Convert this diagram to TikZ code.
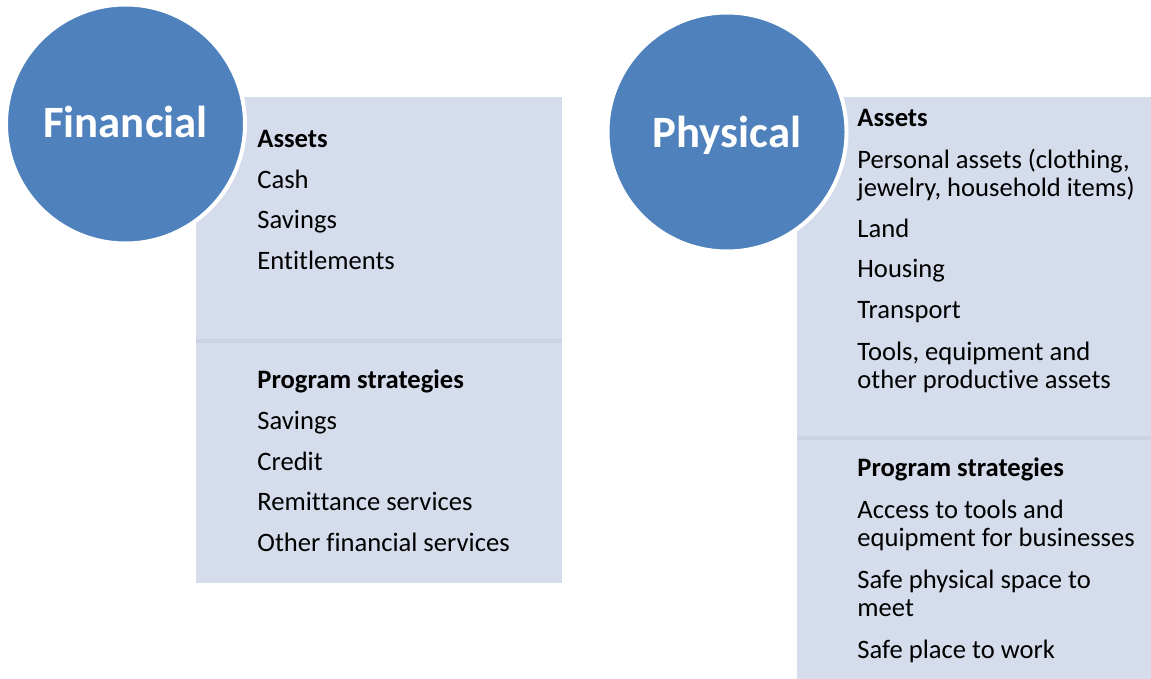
\documentclass[tikz,border=0pt]{standalone}
\usepackage{fontspec}
\setmainfont{Carlito}[Ligatures=NoCommon]
\usetikzlibrary{calc}
\definecolor{capblue}{RGB}{79,129,189}
\definecolor{capbox}{RGB}{213,220,235}
\definecolor{capline}{RGB}{202,210,227}
\begin{document}
\begin{tikzpicture}[x=0.5pt,y=-0.5pt,font=\fontsize{13.3}{14}\selectfont,
	item/.style={anchor=base west,inner sep=0pt,align=left},
	head/.style={item,font=\fontsize{13.3}{14}\selectfont\bfseries},
	capital/.style={circle,fill=capblue,draw=white,line width=2pt,minimum size=119.5pt,inner sep=0pt},
	title/.style={anchor=base,text=white,inner sep=0pt,font=\fontsize{22.4}{26}\selectfont\bfseries}]
	\useasboundingbox (0,0) rectangle (1151,679);
	\coordinate (F) at (125.5,124);
	\coordinate (P) at (727,132);
	% boxes
	\fill[capbox] (196,97) rectangle (562,583);
	\fill[capbox] (797,97) rectangle (1151,679);
	\draw[capline,line width=2pt] (196,341) -- (562,341);
	\draw[capline,line width=2pt] (797,438) -- (1151,438);
	% circles
	\node[capital] (fin) at (F) {};
	\node[capital] (phy) at (P) {};
	\node[title] (fint) at ($(F)+(0,14)$) {Financial};
	\node[title] (phyt) at ($(P)+(0,16)$) {Physical};
	% financial
	\node[head] (fa) at (257,148) {Assets};
	\node[item] (fa1) at (257,189) {Cash};
	\node[item] (fa2) at (257,229) {Savings};
	\node[item] (fa3) at (257,270) {Entitlements};
	\node[head] (fs) at (257,388) {Program strategies};
	\node[item] (fs1) at (257,429) {Savings};
	\node[item] (fs2) at (257,470) {Credit};
	\node[item] (fs3) at (257,510) {Remittance services};
	\node[item] (fs4) at (257,551) {Other financial services};
	% physical (base of a two-line item is its second line)
	\node[head] (pa) at (857,127) {Assets};
	\node[item] (pa1) at (857,197) {Personal assets (clothing,\\jewelry, household items)};
	\node[item] (pa2) at (857,238) {Land};
	\node[item] (pa3) at (857,278) {Housing};
	\node[item] (pa4) at (857,319) {Transport};
	\node[item] (pa5) at (857,388) {Tools, equipment and\\other productive assets};
	\node[head] (ps) at (857,476) {Program strategies};
	\node[item] (ps1) at (857,546) {Access to tools and\\equipment for businesses};
	\node[item] (ps2) at (857,616) {Safe physical space to\\meet};
	\node[item] (ps3) at (857,658) {Safe place to work};
\end{tikzpicture}
\end{document}
